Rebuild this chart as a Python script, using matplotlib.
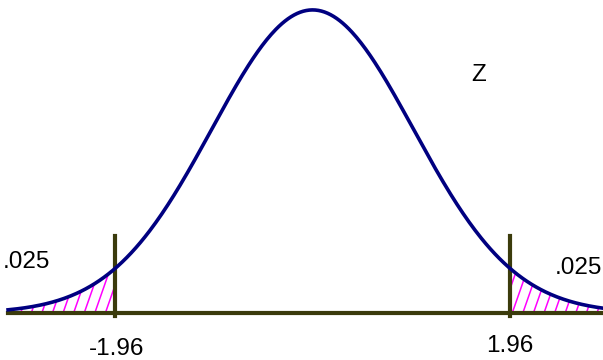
import numpy as np
import matplotlib.pyplot as plt
from matplotlib.patches import Polygon

# two-tailed critical region of the standard normal
z_crit = 1.96
tail_area = ".025"
z_min, z_max = -3.02, 3.0
crit_labels = ["-1.96", "1.96"]

NAVY = "#000080"
OLIVE = "#3b3b0c"
HATCH = "#ff00ff"


def pdf(z):
    return np.exp(-0.5 * z ** 2) / np.sqrt(2 * np.pi)


fig = plt.figure(figsize=(6.03, 3.6), dpi=100)
ax = fig.add_axes([0, 0, 1, 1])
ax.set_xlim(-3.10, 2.88)
ax.set_ylim(-0.0619, 0.412)
ax.axis("off")

z = np.linspace(z_min, z_max, 400)

# hatched tails: steep parallel lines clipped to each tail
slope = 0.38
for lo, hi in [(z_min, -z_crit), (z_crit, z_max)]:
    zz = np.linspace(lo, hi, 100)
    verts = [(lo, 0)] + list(zip(zz, pdf(zz))) + [(hi, 0)]
    clip = Polygon(verts, closed=True, facecolor="none", edgecolor="none")
    ax.add_patch(clip)
    for x0 in np.arange(lo - 0.4, hi + 0.1, 0.105):
        ln, = ax.plot([x0, x0 + 0.5], [0, slope * 0.5], color=HATCH, lw=1.1,
                      zorder=2)
        ln.set_clip_path(clip)

# baseline and critical value markers
ax.plot([z_min, 3.1], [0, 0], color=OLIVE, lw=3, zorder=3)
for zc in (-z_crit, z_crit):
    ax.plot([zc, zc], [-0.004, 0.1014], color=OLIVE, lw=3, zorder=3)

ax.plot(z, pdf(z), color=NAVY, lw=2.6, zorder=4)

font = dict(family="Liberation Sans", fontsize=17.5, color="black")
ax.text(-3.07, 0.067, tail_area, ha="left", va="center", **font)
ax.text(2.87, 0.059, tail_area, ha="right", va="center", **font)
ax.text(1.65, 0.313, "Z", ha="center", va="center", **font)
ax.text(-1.94, -0.047, crit_labels[0], ha="center", va="center", **font)
ax.text(1.96, -0.043, crit_labels[1], ha="center", va="center", **font)

fig.savefig("out.png", dpi=100)
